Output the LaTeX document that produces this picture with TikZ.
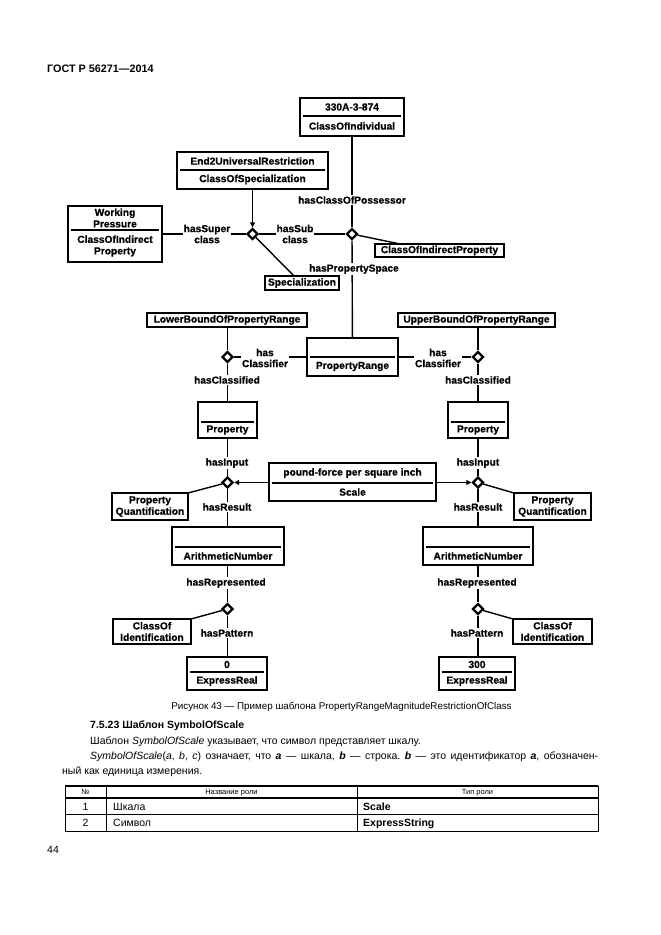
\documentclass[tikz,border=0pt]{standalone}
\usepackage{fontspec}
\setmainfont{Liberation Sans}
\newfontface\diafont{Liberation Sans Bold}[FakeBold=0.6]
\usetikzlibrary{shapes.geometric,arrows.meta,calc}
\frenchspacing

\tikzset{
  umlbox/.style={draw, line width=1.5pt, inner sep=0pt, outer sep=0pt},
  dtext/.style={font=\diafont\fontsize{10.2}{11.5}\selectfont, inner sep=0pt, align=center},
  divline/.style={line width=1.2pt},
  conn/.style={line width=1.4pt},
  arr/.style={conn, -{Triangle[length=5pt,width=5pt]}},
  dia/.style={diamond, draw, line width=2.4pt, fill=white, minimum size=11pt, inner sep=0pt, aspect=1},
  lab/.style={font=\diafont\fontsize{10.2}{11}\selectfont, fill=white, inner sep=1pt, align=center},
  body/.style={font=\fontsize{10.5}{12}\selectfont, inner sep=0pt},
  bodyb/.style={font=\bfseries\fontsize{10.5}{12}\selectfont, inner sep=0pt},
  tsmall/.style={font=\fontsize{7.5}{8}\selectfont, inner sep=0pt},
}

% name, x1, y1, x2, y2, ydiv, top text, bottom text
\newcommand\twobox[8]{%
  \node[umlbox, minimum width={(#4-#2)*1pt}, minimum height={(#5-#3)*1pt}] (#1) at ({(#2+#4)/2},{(#3+#5)/2}) {};
  \draw[divline] ({#2+3},#6) -- ({#4-3},#6);
  \node[dtext] (#1t) at ({(#2+#4)/2},{(#3+#6)/2}) {#7};
  \node[dtext] (#1b) at ({(#2+#4)/2},{(#6+#5)/2}) {#8};
}
% name, x1, y1, x2, y2, text
\newcommand\onebox[6]{%
  \node[umlbox, dtext, minimum width={(#4-#2)*1pt}, minimum height={(#5-#3)*1pt}] (#1) at ({(#2+#4)/2},{(#3+#5)/2}) {#6};
}

\begin{document}
\begin{tikzpicture}[x=1pt,y=-1pt]
\fill[white] (0,0) rectangle (661,935);
\useasboundingbox (0,0) rectangle (661,935);

% ---------- boxes ----------
\twobox{top}{300}{98}{404}{136}{116}{330A-3-874}{ClassOfIndividual}
\twobox{e2}{177}{152}{328}{189}{170}{End2UniversalRestriction}{ClassOfSpecialization}
\twobox{wp}{68}{206}{162}{262}{230}{Working\\Pressure}{ClassOfIndirect\\Property}
\onebox{spec}{265}{276}{339}{290}{Specialization}
\onebox{cip}{375}{244}{504}{257}{ClassOfIndirectProperty}
\twobox{pr}{307}{338}{398}{376}{357}{}{PropertyRange}
\onebox{lb}{147}{313}{307}{327}{LowerBoundOfPropertyRange}
\onebox{ub}{398}{313}{555}{327}{UpperBoundOfPropertyRange}
\twobox{propL}{198}{402}{257}{438}{422}{}{Property}
\twobox{propR}{448}{402}{508}{438}{422}{}{Property}
\twobox{sc}{269}{463}{436}{501}{483}{pound-force per square inch}{Scale}
\onebox{pqL}{112}{493}{188}{520}{Property\\Quantification}
\onebox{pqR}{514}{493}{591}{520}{Property\\Quantification}
\twobox{anL}{172}{527}{284}{565}{547}{}{ArithmeticNumber}
\twobox{anR}{423}{527}{533}{565}{547}{}{ArithmeticNumber}
\onebox{coiL}{113}{619}{191}{644}{ClassOf\\Identification}
\onebox{coiR}{513}{619}{592}{644}{ClassOf\\Identification}
\twobox{erL}{187}{657}{267}{690}{672}{0}{ExpressReal}
\twobox{erR}{439}{657}{515}{690}{672}{300}{ExpressReal}

% ---------- diamonds ----------
\node[dia] (d1) at (252.5,234) {};
\node[dia] (d2) at (352,234) {};
\node[dia] (dl1) at (227.5,357) {};
\node[dia] (dr1) at (478,357) {};
\node[dia] (dl2) at (227.5,482.5) {};
\node[dia] (dr2) at (478,482.5) {};
\node[dia] (dl3) at (227.5,609) {};
\node[dia] (dr3) at (478,609) {};

% ---------- connectors ----------
\draw[conn] (top) -- (d2);
\draw[conn] (d2) -- (pr);
\draw[conn] (wp.east |- d1) -- (d1);
\draw[conn] (d1) -- (d2);
\draw[arr] (e2) -- (d1);
\draw[conn] (d1) -- ($(spec.north west)+(29,0)$);
\draw[conn] (d2) -- ($(cip.north west)+(25,0)$);

\draw[conn] (dl1 |- lb.south) -- (dl1);
\draw[conn] (dl1) -- (pr);
\draw[conn] (dl1) -- (dl1 |- propL.north);
\draw[conn] (dr1 |- ub.south) -- (dr1);
\draw[conn] (pr) -- (dr1);
\draw[conn] (dr1) -- (dr1 |- propR.north);

\draw[conn] (dl2 |- propL.south) -- (dl2);
\draw[conn] (dl2) -- (dl2 |- anL.north);
\draw[arr] (sc.west |- dl2) -- (dl2);
\draw[conn] (dl2) -- (pqL.north east);
\draw[conn] (dr2 |- propR.south) -- (dr2);
\draw[conn] (dr2) -- (dr2 |- anR.north);
\draw[arr] (sc.east |- dr2) -- (dr2);
\draw[conn] (dr2) -- (pqR.north west);

\draw[conn] (dl3 |- anL.south) -- (dl3);
\draw[conn] (dl3) -- (dl3 |- erL.north);
\draw[conn] (dl3) -- (coiL.north east);
\draw[conn] (dr3 |- anR.south) -- (dr3);
\draw[conn] (dr3) -- (dr3 |- erR.north);
\draw[conn] (dr3) -- (coiR.north west);

% ---------- connector labels ----------
\node[lab] (lPoss) at (352,200) {hasClassOfPossessor};
\node[lab] (lSpace) at (354,269) {hasPropertySpace};
\node[lab] (lSuper) at (207,234) {hasSuper\\class};
\node[lab] (lSub) at (295,234) {hasSub\\class};
\node[lab] (lClsL) at (265,358) {has\\Classifier};
\node[lab] (lClsR) at (438,358) {has\\Classifier};
\node[lab] (lCdL) at (227,380) {hasClassified};
\node[lab] (lCdR) at (478,380) {hasClassified};
\node[lab] (lInL) at (227,463) {hasInput};
\node[lab] (lInR) at (478,463) {hasInput};
\node[lab] (lResL) at (227,507) {hasResult};
\node[lab] (lResR) at (478,507) {hasResult};
\node[lab] (lRepL) at (226,583) {hasRepresented};
\node[lab] (lRepR) at (477,583) {hasRepresented};
\node[lab] (lPatL) at (227,633) {hasPattern};
\node[lab] (lPatR) at (477,633) {hasPattern};

% ---------- page text ----------
\node[anchor=base west, font=\bfseries\fontsize{10.8}{12}\selectfont, inner sep=0pt] (hdr) at (47,72) {ГОСТ Р 56271—2014};
\node[anchor=base, font=\fontsize{9.8}{12}\selectfont, inner sep=0pt] (cap) at (341.5,709) {Рисунок 43 — Пример шаблона PropertyRangeMagnitudeRestrictionOfClass};
\node[anchor=base west, bodyb] (sec) at (90,728) {7.5.23 Шаблон SymbolOfScale};
\node[anchor=base west, body] (p1) at (90,744) {Шаблон \textit{SymbolOfScale} указывает, что символ представляет шкалу.};
\node[anchor=base west, body] (p2) at (90,759) {\makebox[508pt][s]{\textit{SymbolOfScale}(\textit{a}, \textit{b}, \textit{c}) означает, что \textbf{\textit{a}} — шкала, \textbf{\textit{b}} — строка. \textbf{\textit{b}} — это идентификатор \textbf{\textit{a}}, обозначен-}};
\node[anchor=base west, body] (p3) at (62,774) {ный как единица измерения.};

% ---------- table ----------
\draw[line width=1pt] (65,786) rectangle (598,831);
\draw[line width=2pt] (65,786) -- (598,786);
\draw[line width=2pt] (65,798) -- (598,798);
\draw[line width=1pt] (65,814.5) -- (598,814.5);
\draw[line width=1pt] (106,786) -- (106,831);
\draw[line width=1pt] (357,786) -- (357,831);
\node[anchor=base, tsmall] (th1) at (85.5,794.5) {№};
\node[anchor=base, tsmall] (th2) at (231.5,794.5) {Название роли};
\node[anchor=base, tsmall] (th3) at (477.5,794.5) {Тип роли};
\node[anchor=base, body] (r1a) at (85.5,810) {1};
\node[anchor=base west, body] (r1b) at (113,810) {Шкала};
\node[anchor=base west, bodyb] (r1c) at (363,810) {Scale};
\node[anchor=base, body] (r2a) at (85.5,826.5) {2};
\node[anchor=base west, body] (r2b) at (113,826.5) {Символ};
\node[anchor=base west, bodyb] (r2c) at (363,826.5) {ExpressString};
\node[anchor=base west, body] (pg) at (47,853.5) {44};
\end{tikzpicture}
\end{document}
